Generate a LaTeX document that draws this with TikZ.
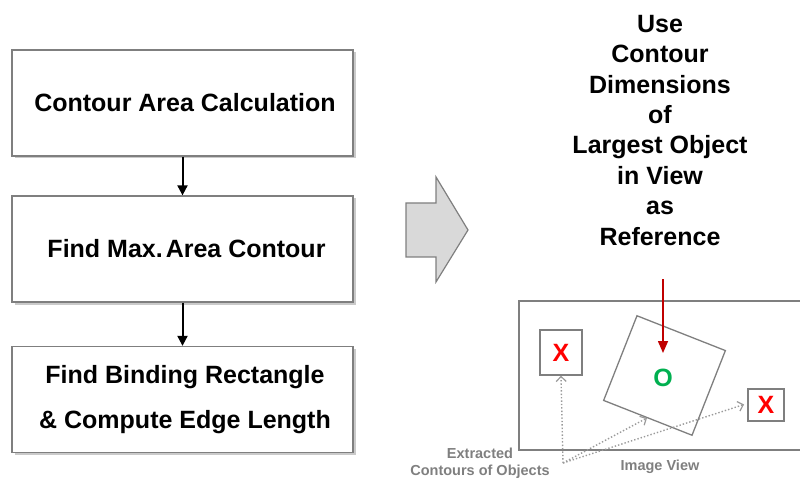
\documentclass[tikz,border=0pt]{standalone}
\usepackage{fontspec}
\setmainfont{Liberation Sans}
\usetikzlibrary{arrows.meta,shadows}
\definecolor{boxgray}{HTML}{7F7F7F}
\definecolor{dotgray}{HTML}{9A9A9A}
\definecolor{arrowfill}{HTML}{D9D9D9}
\definecolor{refred}{HTML}{C00000}
\definecolor{okgreen}{HTML}{00B050}
\tikzset{
  stepbox/.style={draw=boxgray, line width=1.3pt, fill=white,
    minimum width=341pt, minimum height=106pt, inner sep=0pt,
    align=center, font=\bfseries\fontsize{25}{45}\selectfont,
    drop shadow={shadow xshift=2.5pt, shadow yshift=-2.5pt, fill=black!35, opacity=0.6}},
  flowarrow/.style={line width=2pt, -{Triangle[length=10pt,width=10pt]}},
  objbox/.style={draw=boxgray, line width=1.3pt, fill=white, inner sep=0pt},
  objlabel/.style={font=\bfseries\fontsize{25}{30}\selectfont},
  pointer/.style={dotgray, line width=1.4pt, dotted,
    -{Straight Barb[length=5pt,width=10pt,line width=1.2pt]}},
  caption/.style={text=boxgray, font=\bfseries\fontsize{14.5}{17}\selectfont, align=center, inner sep=0pt}
}
\begin{document}
\begin{tikzpicture}[x=1pt, y=-1pt]
\useasboundingbox (0,0) rectangle (800,478);

% processing steps
\node[stepbox] (calc) at (182.5,103) {\hspace*{5pt}Contour Area Calculation};
\node[stepbox] (max) at (182.5,249) {\hspace*{8pt}Find Max.\hspace{3pt}Area Contour};
\node[stepbox] (rect) at (182.5,399.5) {\hspace*{5pt}Find Binding Rectangle\\\hspace*{5pt}\& Compute Edge Length};
\draw[flowarrow] (calc.south) -- (max.north);
\draw[flowarrow] (max.south) -- (rect.north);

% block arrow between the two halves
\draw[draw=boxgray, line width=1.2pt, fill=arrowfill, line join=miter]
  (406,203) -- (436,203) -- (436,177) -- (468,230) -- (436,282) -- (436,257) -- (406,257) -- cycle;

% reference statement
\node[anchor=north, inner sep=0pt, align=center,
      font=\bfseries\fontsize{25}{30.4}\selectfont] (title) at (660,15)
  {Use\\Contour\\Dimensions\\of\\Largest Object\\in View\\as\\Reference};

% image view frame (open to the right)
\draw[draw=boxgray, line width=1.3pt] (800,301) -- (519,301) -- (519,450) -- (800,450);

% objects found in the view
\node[objbox, minimum width=42pt, minimum height=45pt] (objA) at (561,352.5) {};
\node[objlabel, text=red] at (objA.center) {X};
\node[objbox, minimum width=36pt, minimum height=32pt] (objB) at (766,405) {};
\node[objlabel, text=red] at (objB.center) {X};
\node[objbox, minimum width=95pt, minimum height=91pt, rotate=-21.5] (objC) at (664.5,375.5) {};
\node[objlabel, text=okgreen] (okmark) at (663,378) {O};

% pointer to the reference object
\coordinate (refstart) at (663,279);
\coordinate (refend) at (663,353);
\draw[refred, line width=1.6pt, -{Triangle[length=12pt,width=10pt]}] (refstart) -- (refend);

% extracted contour pointers
\coordinate (src) at (563,463);
\coordinate (hitC) at (647,418);
\coordinate (hitB) at (744,404.5);
\draw[pointer] (src) -- (objA.south);
\draw[pointer] (src) -- (hitC);
\draw[pointer] (src) -- (hitB);

% captions
\node[caption] (extr) at (480,463) {Extracted\\Contours of Objects};
\node[caption] (view) at (660,467) {Image View};
\end{tikzpicture}
\end{document}
